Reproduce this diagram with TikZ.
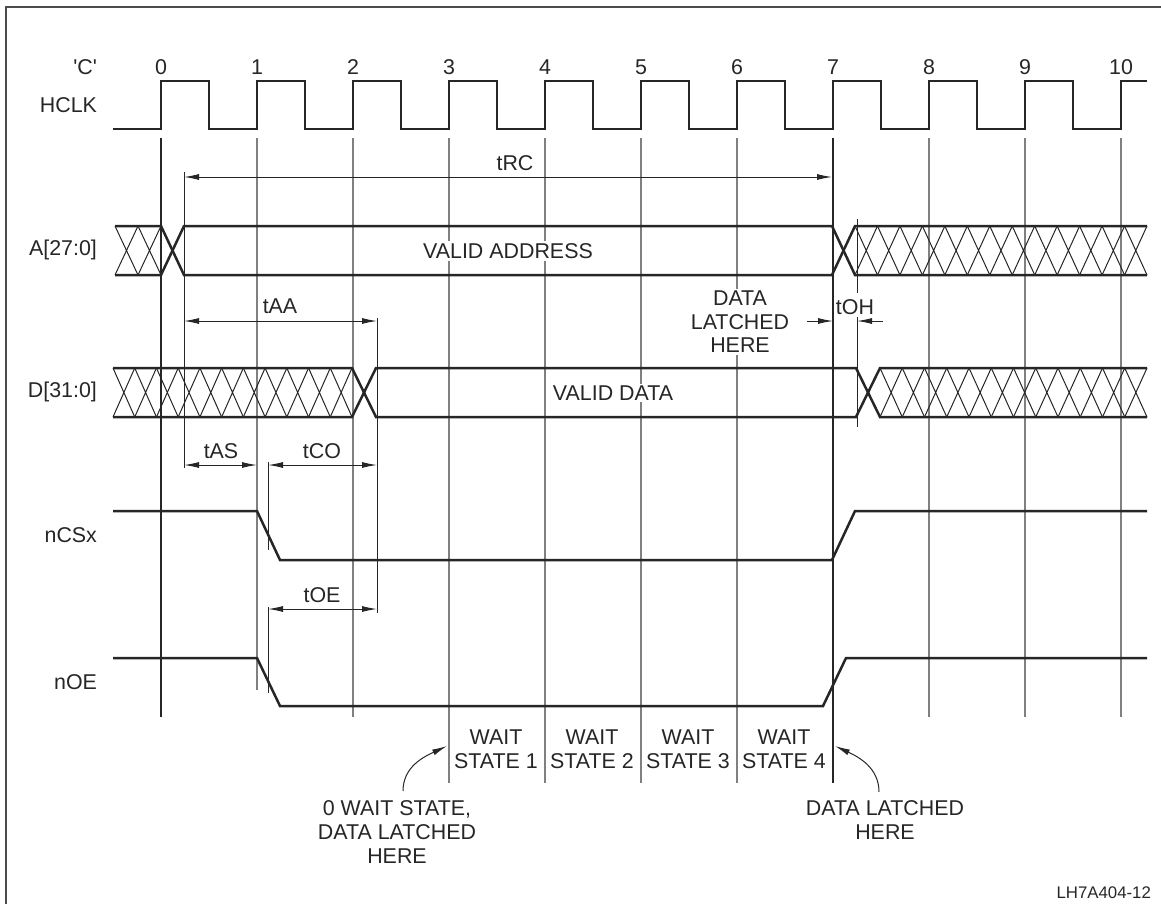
\documentclass[tikz,border=0pt]{standalone}
\usepackage{fontspec}
\setmainfont{Liberation Sans}
\usetikzlibrary{arrows.meta}

\newcommand{\hatchrow}[5]{%
  \foreach \i in {1,...,#3}{%
    \pgfmathsetmacro{\xa}{#1+(#2-#1)*(\i-1)/#3}%
    \pgfmathsetmacro{\xb}{#1+(#2-#1)*\i/#3}%
    \draw[hatch] (\xa,#4) -- (\xb,#5) (\xa,#5) -- (\xb,#4);
  }}

\begin{document}
\begin{tikzpicture}[x=0.5pt, y=-0.5pt,
  every node/.style={font=\fontsize{10.7}{11.8}\selectfont, align=center, text=black!85},
  sig/.style={line width=1.25pt, black!85},
  hatch/.style={line width=0.5pt, black!85},
  refline/.style={line width=0.5pt, black!85},
  gridline/.style={line width=0.6pt},
  dimarrow/.style={line width=0.5pt, black!85, {Latex[length=7.5pt,width=3pt]}-{Latex[length=7.5pt,width=3pt]}},
  halfdim/.style={line width=0.5pt, black!85, -{Latex[length=7.5pt,width=3pt]}},
  siglabel/.style={anchor=east},
  blank/.style={fill=white, inner sep=1pt}
]
\useasboundingbox (0,0) rectangle (1161,904);
\draw[line width=0.6pt, black!70] (1161,7) -- (6,7) -- (6,904);

% clock edge lines
\foreach \k/\e/\c in {0/717/85,1/690/50,2/717/50,3/783/50,4/783/50,5/783/50,6/783/50,7/783/85,8/717/50,9/717/50,10/717/50}
  \draw[gridline, black!\c] ({161+96*\k},138) -- ({161+96*\k},\e);

\draw[refline] (184,172) -- (184,468);
\draw[refline] (377,318) -- (377,613);
\draw[refline] (268,462) -- (268,550) (268,607) -- (268,693);
\draw[refline] (857,219) -- (857,293) (857,317) -- (857,427);

% signal names
\node[siglabel] (lblC) at (104,67) {\textquotesingle C\textquotesingle};
\node[siglabel] (lblHclk) at (104,105) {HCLK};
\node[siglabel] (lblA) at (104,250) {A[27:0]};
\node[siglabel] (lblD) at (104,392) {D[31:0]};
\node[siglabel] (lblCs) at (104,535) {nCSx};
\node[siglabel] (lblOe) at (104,682) {nOE};

\foreach \k in {0,...,10}
  \node (num\k) at ({161+96*\k},67) {\k};

% HCLK
\draw[sig] (113,129) \foreach \k in {0,...,9}{
    -- ({161+96*\k},129) -- ({161+96*\k},81) -- ({209+96*\k},81) -- ({209+96*\k},129)}
  -- (1121,129) -- (1121,81) -- (1147,81);

% A[27:0]
\hatchrow{115}{161}{2}{226}{275}
\hatchrow{855}{1147}{13}{226}{275}
\draw[sig] (115,226) -- (161,226) -- (184,275) -- (832,275) -- (855,226) -- (1147,226);
\draw[sig] (115,275) -- (161,275) -- (184,226) -- (832,226) -- (855,275) -- (1147,275);
\node[blank] (validAddr) at (508,251) {VALID ADDRESS};

% D[31:0]
\hatchrow{113}{352}{11}{368}{417}
\hatchrow{880}{1147}{12}{368}{417}
\draw[sig] (113,368) -- (352,368) -- (376,417) -- (856,417) -- (880,368) -- (1147,368);
\draw[sig] (113,417) -- (352,417) -- (376,368) -- (856,368) -- (880,417) -- (1147,417);
\node[blank] (validData) at (613,393) {VALID DATA};

% nCSx, nOE
\draw[sig] (113,511) -- (257,511) -- (280,560) -- (832,560) -- (855,511) -- (1147,511);
\draw[sig] (113,658) -- (257,658) -- (280,706) -- (823,706) -- (846,658) -- (1147,658);

% timing parameters
\coordinate (rcL) at (184,177);
\coordinate (rcR) at (832,177);
\draw[dimarrow] (rcL) -- (rcR);
\node (tRC) at (515,163) {tRC};

\coordinate (aaL) at (184,321);
\coordinate (aaR) at (377,321);
\draw[dimarrow] (aaL) -- (aaR);
\node (tAA) at (280,306) {tAA};

\coordinate (asL) at (184,465);
\coordinate (asR) at (257,465);
\draw[dimarrow] (asL) -- (asR);
\node (tAS) at (221,451) {tAS};

\coordinate (coL) at (268,465);
\coordinate (coR) at (377,465);
\draw[dimarrow] (coL) -- (coR);
\node (tCO) at (322,451) {tCO};

\coordinate (oeL) at (268,609);
\coordinate (oeR) at (377,609);
\draw[dimarrow] (oeL) -- (oeR);
\node (tOE) at (322,595) {tOE};

\coordinate (ohA) at (807,321);
\coordinate (ohB) at (833,321);
\coordinate (ohC) at (883,321);
\coordinate (ohD) at (857,321);
\draw[halfdim] (ohA) -- (ohB);
\draw[halfdim] (ohC) -- (ohD);
\node (tOH) at (855,307) {tOH};

\node[blank] (latchTop) at (740,322) {DATA\\LATCHED\\HERE};

% wait states
\foreach \k in {1,...,4}
  \node (wait\k) at ({400+96*\k},749) {WAIT\\STATE \k};

\node (zeroWait) at (397,832) {0 WAIT STATE,\\DATA LATCHED\\HERE};
\coordinate (zeroFoot) at (403,791);
\coordinate (zeroTip) at (447,746);
\draw[halfdim] (zeroFoot) to[out=90, in=205] (zeroTip);

\node (latchBot) at (885,820) {DATA LATCHED\\HERE};
\coordinate (latchFoot) at (879,792);
\coordinate (latchTip) at (835,746);
\draw[halfdim] (latchFoot) to[out=90, in=-25] (latchTip);

\node[anchor=east, font=\fontsize{8.4}{10}\selectfont] (figId) at (1158,893) {LH7A404-12};
\end{tikzpicture}
\end{document}
